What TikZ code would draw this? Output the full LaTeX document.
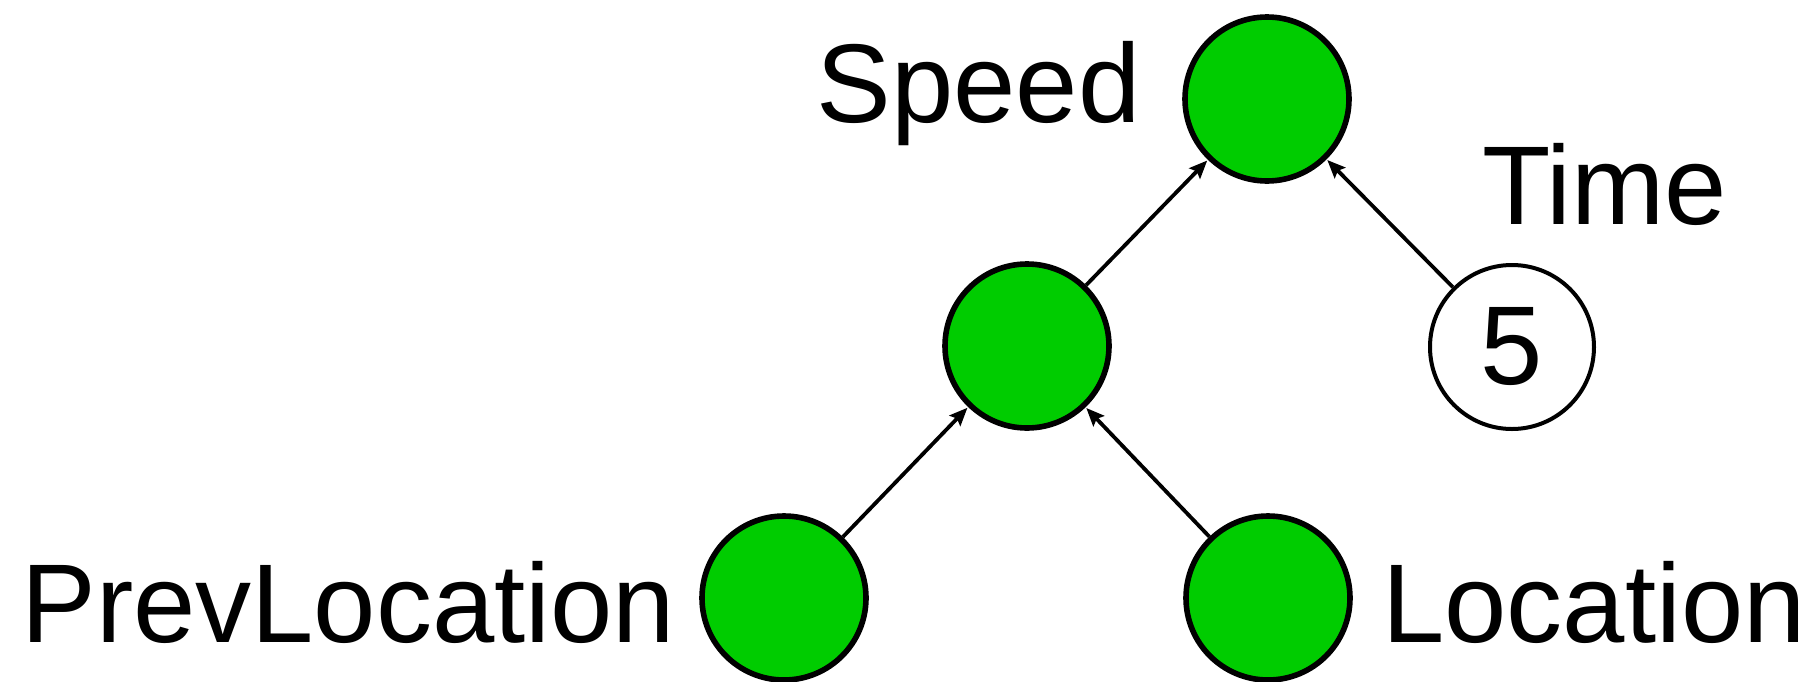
\documentclass[tikz,border=0pt]{standalone}
\usepackage{fontspec}
\setmainfont{Liberation Sans}
\usetikzlibrary{arrows.meta}
\definecolor{nodegreen}{HTML}{00CC00}
\tikzset{
  gnode/.style={circle, draw=black, fill=nodegreen, line width=2.8pt, minimum size=82pt, inner sep=0pt},
  wnode/.style={circle, draw=black, fill=white, line width=2pt, minimum size=82pt, inner sep=0pt, font=\fontsize{56}{60}\selectfont},
  lbl/.style={inner sep=0pt, font=\fontsize{56}{60}\selectfont},
  edge/.style={line width=1.9pt, -{Stealth[length=9pt, width=7.5pt, inset=1.5pt]}, shorten >=0.5pt}
}
\begin{document}
\begin{tikzpicture}[x=0.5pt, y=-0.5pt]
\useasboundingbox (0,0) rectangle (1812,681);
\node[gnode] (speed) at (1267,99) {};
\node[gnode] (mid) at (1027,346) {};
\node[wnode] (five) at (1512,347) {5};
\node[gnode] (prev) at (784,598) {};
\node[gnode] (loc) at (1268,598) {};
\node[lbl, anchor=base east] (tspeed) at (1141,122) {Speed};
\node[lbl, anchor=base west] (ttime) at (1482,224) {Time};
\node[lbl, anchor=base west] (tloc) at (1382,642) {Location};
\node[lbl, anchor=base west] (tprev) at (21,642) {PrevLocation};
\draw[edge] (mid) -- (speed);
\draw[edge] (five) -- (speed);
\draw[edge] (prev) -- (mid);
\draw[edge] (loc) -- (mid);
\end{tikzpicture}
\end{document}
